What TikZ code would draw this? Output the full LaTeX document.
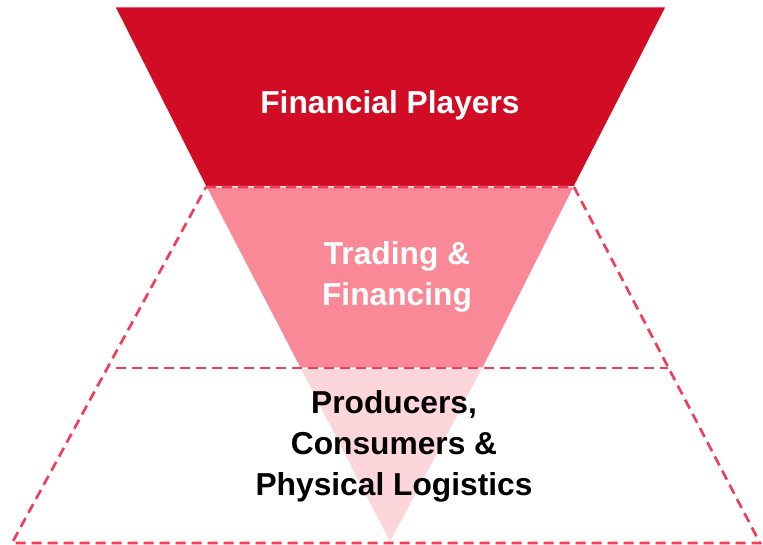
\documentclass[tikz,border=0pt]{standalone}
\usepackage{fontspec}
\setmainfont{Liberation Sans}
\definecolor{playersred}{RGB}{210,12,36}
\definecolor{tradingpink}{RGB}{249,137,150}
\definecolor{physpink}{RGB}{253,214,219}
\definecolor{guidered}{RGB}{240,62,88}

\begin{document}
\begin{tikzpicture}[x=0.75pt,y=-0.75pt]
        \tikzstyle{band}=[draw=white,line width=0.75pt]
        \tikzstyle{guide}=[draw=guidered,line width=2pt,dash pattern=on 7.5pt off 4.5pt]
        \tikzstyle{level}=[font=\bfseries\fontsize{23.8}{30.75}\selectfont,align=center,inner sep=0pt]
        \useasboundingbox (0,0) rectangle (763,545);

        % funnel corners
        \coordinate (F-tl) at (115,7);
        \coordinate (F-tr) at (666,7);
        \coordinate (F-ml) at (206,187);
        \coordinate (F-mr) at (574,187);
        \coordinate (F-ll) at (300,368);
        \coordinate (F-lr) at (483,368);
        \coordinate (F-tip) at (390,543);

        % pyramid outline
        \coordinate (P-ml) at (116,368);
        \coordinate (P-mr) at (668,368);
        \coordinate (P-bl) at (12,543);
        \coordinate (P-br) at (760,543);

        \fill[band,fill=playersred] (F-tl) -- (F-tr) -- (F-mr) -- (F-ml) -- cycle;
        \fill[band,fill=tradingpink] (F-ml) -- (F-mr) -- (F-lr) -- (F-ll) -- cycle;
        \fill[band,fill=physpink] (F-ll) -- (F-lr) -- (F-tip) -- cycle;
        \draw[band] (F-ml) -- (F-mr);
        \draw[band] (F-ll) -- (F-lr);

        \draw[guide] (F-ml) -- (F-mr) -- (P-br) -- (P-bl) -- cycle;
        \draw[guide] (P-ml) -- (P-mr);

        \node[level,text=white] (players) at (390,105) {Financial Players};
        \node[level,text=white] (trading) at (397,277) {Trading \&\\Financing};
        \node[level,text=black] (physical) at (394,446) {Producers,\\Consumers \&\\Physical Logistics};
\end{tikzpicture}
\end{document}
